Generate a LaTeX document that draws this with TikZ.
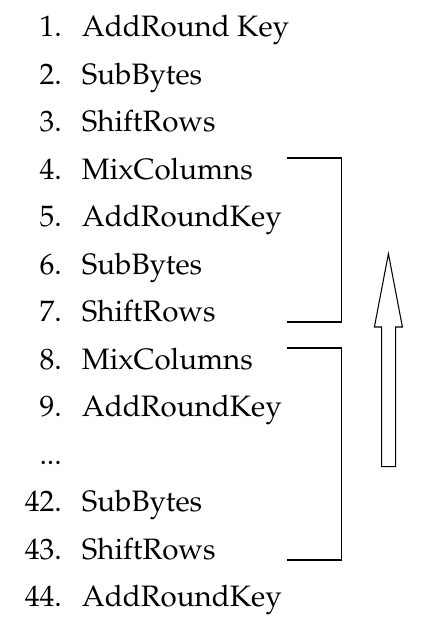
\documentclass[tikz,border=0pt]{standalone}
\usepackage[T1]{fontenc}
\usepackage{mathpazo}

\begin{document}
\begin{tikzpicture}[
    every node/.style={inner sep=0pt, font=\fontsize{21}{25}\selectfont},
    bracket/.style={line width=1.1pt},
    hollow/.style={line width=0.75pt, line join=miter}]
    \useasboundingbox (0,0) rectangle (10.875,15.775);
    % the list of steps
    \foreach \i/\n/\t in {1/1./AddRound Key, 2/2./SubBytes, 3/3./ShiftRows,
        4/4./MixColumns, 5/5./AddRoundKey, 6/6./SubBytes, 7/7./ShiftRows,
        8/8./MixColumns, 9/9./AddRoundKey, 11/42./SubBytes,
        12/43./ShiftRows, 13/44./AddRoundKey}
    {
        \node (n\i) at (1.55,{14.8575-1.1875*(\i-1)}) [anchor=base east] {\n};
        \node (t\i) at (2.04,{14.8575-1.1875*(\i-1)}) [anchor=base west] {\t};
    }
    \node (dots) at (1.55,{14.8575-1.1875*9}) [anchor=base east] {...};
    % brackets round the rounds
    \coordinate (A) at (7.17,11.82);
    \coordinate (B) at (7.17,7.73);
    \coordinate (C) at (7.17,7.07);
    \coordinate (D) at (7.17,1.78);
    \draw [bracket] (A) -- (8.54,11.82) -- (8.54,7.73) -- (B);
    \draw [bracket] (C) -- (8.54,7.07) -- (8.54,1.78) -- (D);
    % hollow arrow
    \draw [hollow] (9.71,9.43) -- (10.06,7.6) -- (9.89,7.6) -- (9.89,4.11)
        -- (9.54,4.11) -- (9.54,7.6) -- (9.36,7.6) -- cycle;
\end{tikzpicture}
\end{document}
